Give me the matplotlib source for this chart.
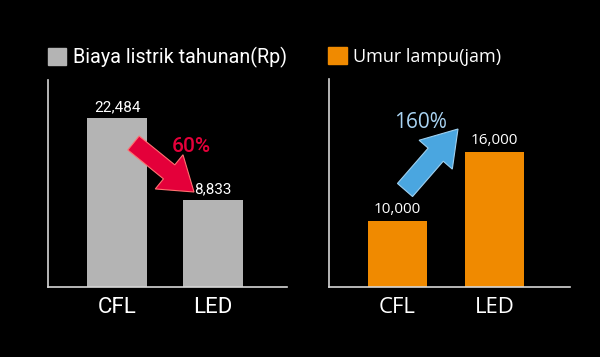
import matplotlib
matplotlib.use("Agg")
import matplotlib.pyplot as plt
from matplotlib.patches import FancyArrow, Rectangle
from matplotlib.transforms import Affine2D

W, H = 600, 357

categories = ["CFL", "LED"]
cost_values = [22484, 8833]          # Biaya listrik tahunan (Rp)
life_values = [10000, 16000]         # Umur lampu (jam)
cost_labels = ["22,484", "8,833"]
life_labels = ["10,000", "16,000"]
cost_title = "Biaya listrik tahunan(Rp)"
life_title = "Umur lampu(jam)"
cost_change = "60%"
life_change = "160%"

GRAY = "#b4b4b4"
ORANGE = "#f08a00"
RED = "#e4003a"
BLUE = "#4aa6e0"
LIGHTBLUE = "#a9d3f2"
SPINE = "#d6d6d6"

fig = plt.figure(figsize=(W / 100, H / 100), dpi=100, facecolor="black")
px = Affine2D().scale(1 / W, 1 / H) + fig.transFigure  # pixel coords (y up)


def P(x, y):
    return x, H - y


def panel(rect, values, labels, color, base, top, xlim, width, font):
    ax = fig.add_axes(rect)
    ax.set_facecolor("black")
    x = list(range(len(values)))
    ax.bar(x, [v - base for v in values], bottom=base, width=width, color=color)
    ax.set_ylim(base, top)
    ax.set_xlim(*xlim)
    for i, (v, lab) in enumerate(zip(values, labels)):
        ax.annotate(lab, (i, v), xytext=(0, 3), textcoords="offset points",
                    ha="center", va="bottom", color="white", fontsize=11,
                    family=font)
    ax.set_xticks(x)
    ax.set_xticklabels(categories, color="white", fontsize=16, family=font)
    ax.tick_params(axis="x", length=0, pad=7)
    ax.set_yticks([])
    for s in ("top", "right"):
        ax.spines[s].set_visible(False)
    for s in ("left", "bottom"):
        ax.spines[s].set_color(SPINE)
        ax.spines[s].set_linewidth(1.2)
    return ax


panel([48 / W, 1 - 287 / H, 239 / W, 207 / H], cost_values, cost_labels, GRAY,
      -5651, 28810, (-0.719, 1.771), 0.62, "Roboto")
panel([329 / W, 1 - 287 / H, 241 / W, 208 / H], life_values, life_labels, ORANGE,
      4258, 22353, (-0.706, 1.778), 0.61, "Open Sans")

# legend-like titles
fig.patches.append(Rectangle(P(48, 65), 18, 17, transform=px, color=GRAY))
fig.text(*P(73, 57), cost_title, transform=px, color="white", fontsize=14.2,
         va="center", ha="left", family="Roboto")
fig.patches.append(Rectangle(P(328, 64), 19, 17, transform=px, color=ORANGE))
fig.text(*P(353, 57), life_title, transform=px, color="white", fontsize=13,
         va="center", ha="left", family="Open Sans")

# arrows
tx, ty = P(133.5, 143)
hx, hy = P(194, 192)
fig.patches.append(FancyArrow(tx, ty, hx - tx, hy - ty, width=18, head_width=44,
                              head_length=32, length_includes_head=True,
                              transform=px, facecolor=RED, edgecolor="#ff7070",
                              linewidth=0.8))
tx, ty = P(405, 190)
hx, hy = P(458, 129)
fig.patches.append(FancyArrow(tx, ty, hx - tx, hy - ty, width=20, head_width=44,
                              head_length=34, length_includes_head=True,
                              transform=px, facecolor=BLUE, edgecolor="#9ed0f0",
                              linewidth=0.8))

fig.text(*P(191, 146), cost_change, transform=px, color=RED, fontsize=15,
         ha="center", va="center", family="Roboto", weight="medium")
fig.text(*P(421, 122), life_change, transform=px, color=LIGHTBLUE, fontsize=15,
         ha="center", va="center", family="Open Sans")

fig.savefig("out.png", dpi=100, facecolor="black")
